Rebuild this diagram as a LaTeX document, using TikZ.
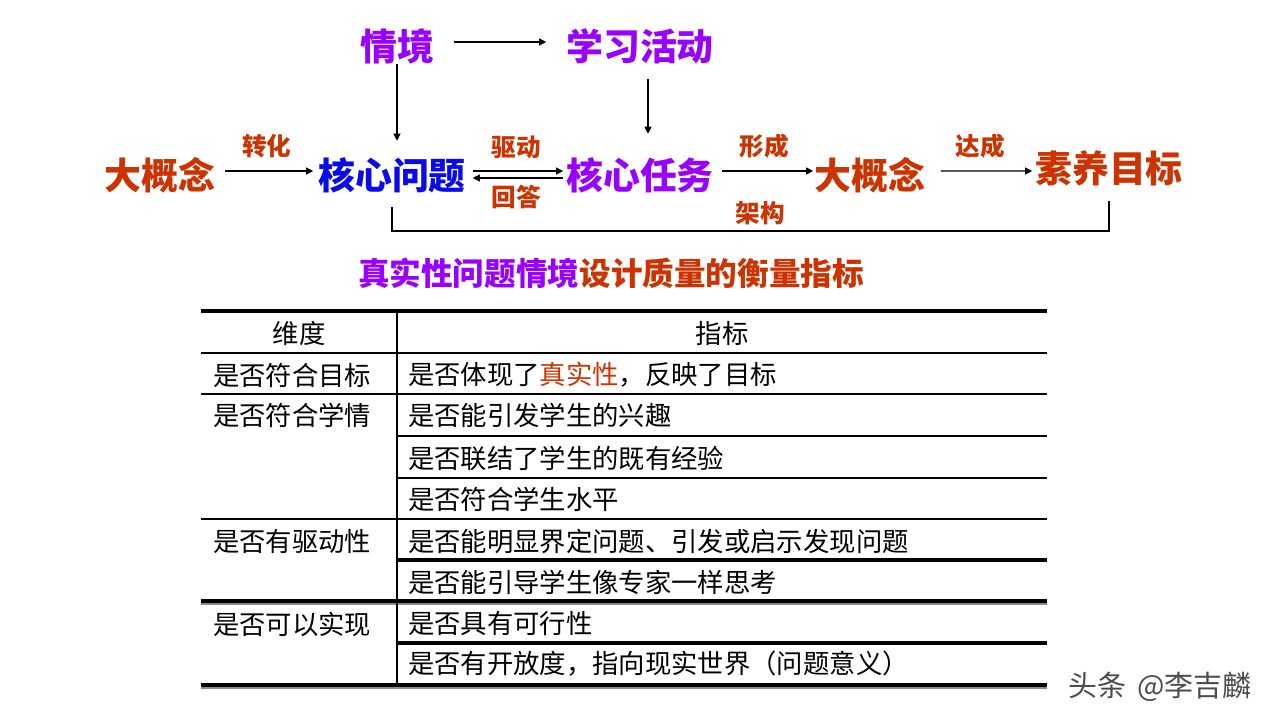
\documentclass[tikz,border=0pt]{standalone}
\usepackage{fontspec}
\setmainfont{Noto Sans CJK SC}
\usepackage{xcolor}
\usetikzlibrary{arrows.meta,positioning}
\definecolor{zise}{RGB}{153,0,255}
\definecolor{lanse}{RGB}{10,10,235}
\definecolor{hongse}{RGB}{204,51,0}
\newcommand{\dazi}{\fontsize{21}{25}\selectfont\bfseries}
\newcommand{\biaozi}{\fontsize{14}{17}\selectfont\bfseries}
\newcommand{\gezi}{\fontsize{15}{18}\selectfont}

\begin{document}
\begin{tikzpicture}[
  x=0.02cm, y=-0.02cm,
  every node/.style={inner sep=0pt, outer sep=0pt},
  big/.style={font=\dazi},
  lbl/.style={font=\biaozi, text=hongse},
  arr/.style={-{Triangle[length=4pt,width=4pt]}, line width=0.6pt},
  rule/.style={line width=0.6pt},
  heavyrule/.style={line width=1.8pt},
  cell/.style={font=\gezi, anchor=west},
]
\useasboundingbox (0,0) rectangle (1279,720);

% concept chain
\node[big, text=zise]   (qj)   at (397,46)   {情境};
\node[big, text=zise]   (xxhd) at (640,46)   {学习活动};
\node[big, text=hongse] (dgn1) at (160,175)  {大概念};
\node[big, text=lanse]  (hxwt) at (392,175)  {核心问题};
\node[big, text=zise]   (hxrw) at (640,175)  {核心任务};
\node[big, text=hongse] (dgn2) at (870,175)  {大概念};
\node[big, text=hongse] (symb) at (1109,168) {素养目标};

\draw[arr, shorten <=0.4cm, shorten >=0.4cm]
  ([yshift=0.08cm]qj.east) -- ([yshift=0.08cm]xxhd.west);
\draw[arr, shorten <=0.01cm, shorten >=0.33cm]
  (qj.south) -- (qj.south |- hxwt.north);
\draw[arr, shorten <=0.31cm, shorten >=0.47cm]
  ([xshift=0.16cm]xxhd.south) -- ([xshift=0.16cm]xxhd.south |- hxrw.north);
\draw[arr, shorten <=0.19cm, shorten >=0.1cm]
  ([yshift=0.08cm]dgn1.east) -- node[lbl, above=0.25cm] (zh) {转化} ([yshift=0.08cm]hxwt.west);
\draw[arr, shorten <=0.14cm, shorten >=0.06cm]
  ([yshift=0.08cm]hxwt.east) -- node[lbl, above=0.25cm] (qd) {驱动} ([yshift=0.08cm]hxrw.west);
\draw[arr, shorten <=0.06cm, shorten >=0.14cm]
  ([yshift=-0.06cm]hxrw.west) -- node[lbl, below=0.15cm] (hd) {回答} ([yshift=-0.06cm]hxwt.east);
\draw[arr, shorten <=0.16cm, shorten >=0.03cm]
  ([yshift=0.08cm]hxrw.east) -- node[lbl, above=0.25cm] (xc) {形成} ([yshift=0.08cm]dgn2.west);
\draw[arr, shorten <=0.31cm, shorten >=0.06cm]
  ([yshift=0.08cm]dgn2.east) -- node[lbl, above=0.25cm] (dc) {达成} ([yshift=-0.06cm]symb.west);

% bracket
\coordinate (jg) at (749,231);
\draw[rule, shorten <=0.29cm, shorten >=0.31cm] (hxwt.south) |- (jg) -| (symb.south);
\node[lbl] (jgl) at (760,213) {架构};

% title
\node[font=\fontsize{18}{22}\selectfont\bfseries] (bt) at (611,273)
  {\textcolor{zise}{真实性问题情境}\textcolor{hongse}{设计质量的衡量指标}};

% table rules
\draw[heavyrule] (201,311) -- (1047,311);
\draw[rule] (201,353) -- (1047,353);
\draw[rule] (201,394) -- (1047,394);
\draw[rule] (397,436) -- (1047,436);
\draw[rule] (397,478) -- (1047,478);
\draw[rule] (201,519) -- (1047,519);
\draw[heavyrule] (397,560) -- (1047,560);
\draw[heavyrule] (201,601) -- (1047,601);
\draw[rule, black!45] (201,604) -- (1047,604);
\draw[heavyrule] (397,643) -- (1047,643);
\draw[heavyrule] (201,685) -- (1047,685);
\draw[rule, black!45] (201,688) -- (1047,688);
\draw[rule] (397,311) -- (397,685);

% header
\node[font=\gezi] (wd) at (299,333) {维度};
\node[font=\gezi] (zbt) at (722,333) {指标};

% first column
\node[cell] (wd1) at (213,375) {是否符合目标};
\node[cell] (wd2) at (213,415) {是否符合学情};
\node[cell] (wd3) at (213,541) {是否有驱动性};
\node[cell] (wd4) at (213,624) {是否可以实现};

% second column
\foreach \y/\t [count=\i] in {
  375/{是否体现了\textcolor{hongse}{真实性}，反映了目标},
  415/{是否能引发学生的兴趣},
  458/{是否联结了学生的既有经验},
  499/{是否符合学生水平},
  541/{是否能明显界定问题、引发或启示发现问题},
  582/{是否能引导学生像专家一样思考},
  624/{是否具有可行性},
  664/{是否有开放度，指向现实世界（问题意义）}}
  \node[cell] (zb\i) at (408,\y) {\t};

% watermark
\node[font=\fontsize{16.5}{19}\selectfont, text=black!70] (sy) at (1160,687) {头条\hspace{0.4em}@李吉麟};
\end{tikzpicture}
\end{document}
